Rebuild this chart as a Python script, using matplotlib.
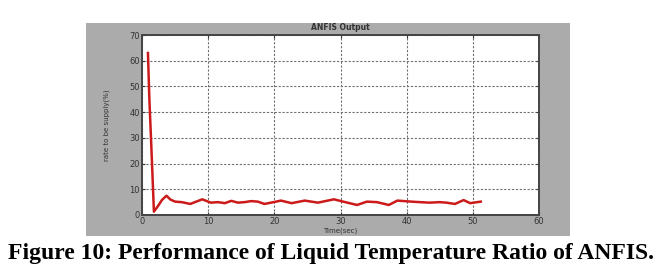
import matplotlib
matplotlib.use("Agg")
import matplotlib.pyplot as plt
from matplotlib.patches import Rectangle

time_sec = [0.9, 1.1, 1.5, 1.8, 2.5, 3.0, 3.7, 4.3, 5.0, 6.0, 7.3, 8.2, 9.1, 10.4, 11.5, 12.5,
            13.5, 14.5, 15.5, 16.5, 17.5, 18.5, 19.5, 21.0, 22.6, 24.6, 26.6, 29.0, 30.4,
            32.5, 34.0, 35.5, 37.3, 38.6, 40.7, 42.0, 43.5, 45.0, 46.0, 47.3, 48.6, 49.6, 51.2]
output_pct = [63.0, 46.0, 21.0, 1.3, 3.8, 5.8, 7.5, 6.0, 5.2, 5.0, 4.3, 5.2, 6.1, 4.8, 5.0, 4.6,
              5.5, 4.8, 5.0, 5.4, 5.2, 4.3, 4.8, 5.6, 4.6, 5.6, 4.8, 6.1, 5.2,
              3.9, 5.2, 5.0, 3.9, 5.6, 5.2, 5.0, 4.8, 5.0, 4.8, 4.3, 5.8, 4.6, 5.2]

x_ticks = [0, 10, 20, 30, 40, 50, 60]
y_ticks = [0, 10, 20, 30, 40, 50, 60, 70]
title = "ANFIS Output"
xlabel = "Time(sec)"
ylabel = "rate to be supply(%)"
caption = "Figure 10: Performance of Liquid Temperature Ratio of ANFIS."

W, H = 660, 273
fig = plt.figure(figsize=(W / 100, H / 100), dpi=100)
fig.patch.set_facecolor("white")

# gray MATLAB figure panel
panel = Rectangle((86 / W, 1 - 236 / H), (570 - 86) / W, (236 - 23) / H,
                  transform=fig.transFigure, facecolor="#ababab",
                  edgecolor="none", zorder=-5)
fig.patches.append(panel)

ax = fig.add_axes([142 / W, 1 - 215 / H, (539 - 142) / W, 180 / H])
ax.set_zorder(2)
ax.set_facecolor("white")
ax.plot(time_sec, output_pct, color="#cc1a1a", lw=1.8, solid_joinstyle="round")
ax.set_xlim(0, 60)
ax.set_ylim(0, 70)
ax.set_xticks(x_ticks)
ax.set_yticks(y_ticks)
ax.tick_params(direction="in", length=2, labelsize=6, colors="#333333", pad=1.5,
               top=True, right=True)
ax.grid(True, color="#707070", linestyle=(0, (2, 1.5)), linewidth=0.8)
for s in ax.spines.values():
    s.set_color("#444444")
    s.set_linewidth(1.4)
ax.set_xlabel(xlabel, fontsize=5, color="#333333", labelpad=1)
ax.set_ylabel(ylabel, fontsize=5, color="#333333", labelpad=14)
fig.text(340 / W, 1 - 28 / H, title, fontsize=5.5, color="#333333", fontweight="bold",
         ha="center", va="center", zorder=3)

fig.text(331 / W, 1 - 253 / H, caption, fontsize=17, fontweight="bold",
         family="Liberation Serif", ha="center", va="center", color="black")

fig.savefig("out.png", dpi=100)
